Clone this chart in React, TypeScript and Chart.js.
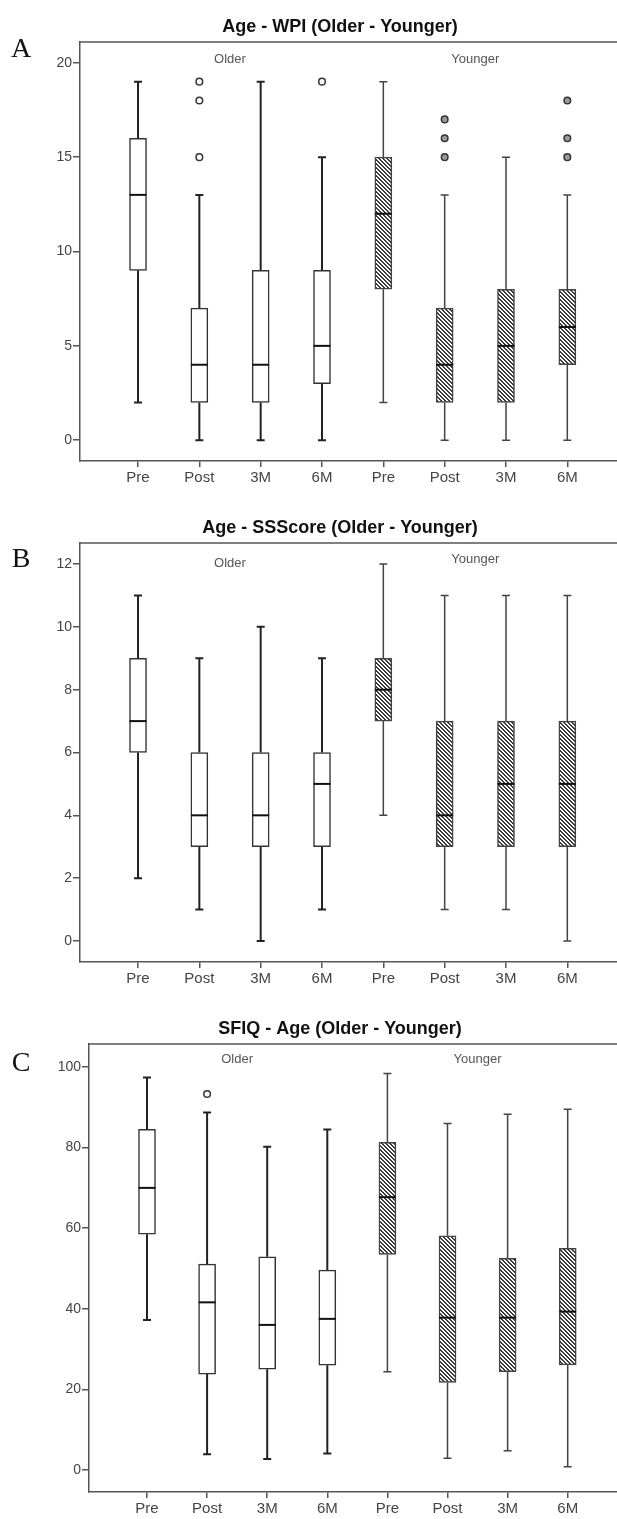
import React, { useEffect, useRef } from "react";
import { Chart, registerables } from "chart.js";

Chart.register(...registerables);

// ---------- data ----------
const categories = ["Pre", "Post", "3M", "6M", "Pre", "Post", "3M", "6M"];
const groupLabels = ["Older", "Younger"];

// Panel A: Age - WPI
const wpiMin = [2, 0, 0, 0, 2, 0, 0, 0];
const wpiQ1 = [9, 2, 2, 3, 8, 2, 2, 4];
const wpiMed = [13, 4, 4, 5, 12, 4, 5, 6];
const wpiQ3 = [16, 7, 9, 9, 15, 7, 8, 8];
const wpiMax = [19, 13, 19, 15, 19, 13, 15, 13];
const wpiOutX = [1, 1, 1, 3, 5, 5, 5, 7, 7, 7];
const wpiOutY = [19, 18, 15, 19, 17, 16, 15, 18, 16, 15];
const wpiTicks = [0, 5, 10, 15, 20];

// Panel B: Age - SSScore
const ssMin = [2, 1, 0, 1, 4, 1, 1, 0];
const ssQ1 = [6, 3, 3, 3, 7, 3, 3, 3];
const ssMed = [7, 4, 4, 5, 8, 4, 5, 5];
const ssQ3 = [9, 6, 6, 6, 9, 7, 7, 7];
const ssMax = [11, 9, 10, 9, 12, 11, 11, 11];
const ssOutX: number[] = [];
const ssOutY: number[] = [];
const ssTicks = [0, 2, 4, 6, 8, 10, 12];

// Panel C: SFIQ - Age
const sfiqMin = [37.2, 3.9, 2.7, 4.1, 24.4, 2.9, 4.8, 0.8];
const sfiqQ1 = [58.5, 23.8, 25.0, 26.0, 53.5, 21.7, 24.4, 26.1];
const sfiqMed = [70.0, 41.6, 36.0, 37.5, 67.7, 37.8, 37.8, 39.3];
const sfiqQ3 = [84.5, 51.1, 52.9, 49.6, 81.3, 58.1, 52.5, 55.0];
const sfiqMax = [97.4, 88.7, 80.2, 84.5, 98.4, 86.0, 88.3, 89.5];
const sfiqOutX = [1];
const sfiqOutY = [93.3];
const sfiqTicks = [0, 20, 40, 60, 80, 100];

// ---------- panel layout ----------
type PanelCfg = {
  letter: string;
  title: string;
  min: number[]; q1: number[]; med: number[]; q3: number[]; max: number[];
  outX: number[]; outY: number[]; ticks: number[];
  yMin: number; yMax: number; xMin: number; xMax: number;
  height: number; top: number; xAxisH: number; yAxisW: number;
  titleY: number; letterY: number; olderY: number; youngerY: number;
};

const panels: PanelCfg[] = [
  {
    letter: "A", title: "Age - WPI (Older - Younger)",
    min: wpiMin, q1: wpiQ1, med: wpiMed, q3: wpiQ3, max: wpiMax,
    outX: wpiOutX, outY: wpiOutY, ticks: wpiTicks,
    yMin: -1.1, yMax: 21.1, xMin: -0.946, xMax: 7.81,
    height: 495, top: 42, xAxisH: 34, yAxisW: 80,
    titleY: 27, letterY: 50, olderY: 59, youngerY: 59,
  },
  {
    letter: "B", title: "Age - SSScore (Older - Younger)",
    min: ssMin, q1: ssQ1, med: ssMed, q3: ssQ3, max: ssMax,
    outX: ssOutX, outY: ssOutY, ticks: ssTicks,
    yMin: -0.67, yMax: 12.67, xMin: -0.946, xMax: 7.81,
    height: 495, top: 48, xAxisH: 28, yAxisW: 80,
    titleY: 33, letterY: 65, olderY: 68, youngerY: 64,
  },
  {
    letter: "C", title: "SFIQ - Age (Older - Younger)",
    min: sfiqMin, q1: sfiqQ1, med: sfiqMed, q3: sfiqQ3, max: sfiqMax,
    outX: sfiqOutX, outY: sfiqOutY, ticks: sfiqTicks,
    yMin: -5.46, yMax: 105.7, xMin: -0.965, xMax: 7.82,
    height: 529, top: 54, xAxisH: 27, yAxisW: 89,
    titleY: 39, letterY: 74, olderY: 69, youngerY: 69,
  },
];

const SANS = "'Liberation Sans', Arial, sans-serif";
const SERIF = "'Liberation Serif', 'Times New Roman', serif";
const BOX_W = 17;

function makeHatch(ctx: CanvasRenderingContext2D) {
  const c = document.createElement("canvas");
  c.width = 4;
  c.height = 4;
  const g = c.getContext("2d")!;
  g.fillStyle = "#ffffff";
  g.fillRect(0, 0, 4, 4);
  g.fillStyle = "#3a3a3a";
  for (let i = 0; i < 4; i++) {
    g.fillRect(i, i, 1, 1);
    g.fillRect((i + 1) % 4, i, 1, 1);
  }
  return ctx.createPattern(c, "repeat");
}

function Panel({ cfg }: { cfg: PanelCfg }) {
  const ref = useRef<HTMLCanvasElement>(null);

  useEffect(() => {
    const canvas = ref.current!;
    const ctx2d = canvas.getContext("2d")!;
    const hatch = makeHatch(ctx2d);

    const decor = {
      id: "boxDecor",
      beforeDatasetsDraw(chart: any) {
        const { ctx, chartArea } = chart;
        const x = chart.scales.x;
        const y = chart.scales.y;
        ctx.save();
        ctx.strokeStyle = "#555";
        ctx.lineWidth = 1.5;
        ctx.beginPath();
        ctx.moveTo(chartArea.left, chartArea.top);
        ctx.lineTo(chartArea.right, chartArea.top);
        ctx.stroke();
        categories.forEach((_, i) => {
          const px = x.getPixelForValue(i);
          ctx.lineWidth = i < 4 ? 2 : 1.5;
          ctx.strokeStyle = i < 4 ? "#222" : "#444";
          ctx.beginPath();
          ctx.moveTo(px, y.getPixelForValue(cfg.min[i]));
          ctx.lineTo(px, y.getPixelForValue(cfg.q1[i]));
          ctx.moveTo(px, y.getPixelForValue(cfg.q3[i]));
          ctx.lineTo(px, y.getPixelForValue(cfg.max[i]));
          const pMin = y.getPixelForValue(cfg.min[i]);
          const pMax = y.getPixelForValue(cfg.max[i]);
          ctx.moveTo(px - 4, pMin);
          ctx.lineTo(px + 4, pMin);
          ctx.moveTo(px - 4, pMax);
          ctx.lineTo(px + 4, pMax);
          ctx.stroke();
        });
        ctx.restore();
      },
      afterDatasetsDraw(chart: any) {
        const { ctx } = chart;
        const x = chart.scales.x;
        const y = chart.scales.y;
        ctx.save();
        ctx.strokeStyle = "#111";
        ctx.lineWidth = 2;
        categories.forEach((_, i) => {
          const px = x.getPixelForValue(i);
          const py = y.getPixelForValue(cfg.med[i]);
          ctx.beginPath();
          ctx.moveTo(px - BOX_W / 2, py);
          ctx.lineTo(px + BOX_W / 2, py);
          ctx.stroke();
        });
        ctx.restore();
      },
      afterDraw(chart: any) {
        const { ctx } = chart;
        const x = chart.scales.x;
        ctx.save();
        ctx.textAlign = "center";
        ctx.textBaseline = "middle";
        ctx.fillStyle = "#111";
        ctx.font = `bold 18px ${SANS}`;
        ctx.fillText(cfg.title, 340, cfg.titleY);
        ctx.font = `28px ${SERIF}`;
        ctx.fillText(cfg.letter, 21, cfg.letterY);
        ctx.fillStyle = "#555";
        ctx.font = `13px ${SANS}`;
        ctx.fillText(groupLabels[0], x.getPixelForValue(1.5), cfg.olderY);
        ctx.fillText(groupLabels[1], x.getPixelForValue(5.5), cfg.youngerY);
        ctx.restore();
      },
    };

    const chart = new Chart(canvas, {
      type: "bar",
      data: {
        datasets: [
          {
            type: "bar",
            data: categories.map((_, i) => ({ x: i, y: [cfg.q1[i], cfg.q3[i]] })) as any,
            backgroundColor: categories.map((_, i) => (i < 4 ? "#ffffff" : hatch)) as any,
            borderColor: categories.map((_, i) => (i < 4 ? "#333" : "#444")),
            borderWidth: 1.5,
            borderSkipped: false,
            barThickness: BOX_W,
            grouped: false,
          } as any,
          {
            type: "scatter",
            data: cfg.outX.map((xv, i) => ({ x: xv, y: cfg.outY[i] })),
            pointRadius: 3.3,
            pointBackgroundColor: cfg.outX.map((xv) => (xv < 4 ? "#ffffff" : "#9a9a9a")),
            pointBorderColor: "#333",
            pointBorderWidth: 1.5,
          } as any,
        ],
      },
      options: {
        responsive: false,
        animation: false,
        devicePixelRatio: 1,
        events: [],
        layout: { autoPadding: false, padding: { top: cfg.top, left: 0, right: 0, bottom: 0 } },
        plugins: {
          legend: { display: false },
          tooltip: { enabled: false },
          title: { display: false },
        },
        scales: {
          x: {
            type: "linear",
            min: cfg.xMin,
            max: cfg.xMax,
            offset: false,
            afterBuildTicks: (s: any) => {
              s.ticks = categories.map((_, i) => ({ value: i }));
            },
            afterFit: (s: any) => {
              s.height = cfg.xAxisH;
            },
            ticks: {
              callback: (_v: any, idx: number) => categories[idx],
              color: "#444",
              font: { family: SANS, size: 15 },
              padding: 2,
              autoSkip: false,
              maxRotation: 0,
            },
            grid: {
              offset: false,
              drawOnChartArea: false,
              drawTicks: true,
              tickLength: 6,
              color: "#555",
              lineWidth: 1.5,
            },
            border: { display: true, color: "#555", width: 1.5 },
          } as any,
          y: {
            type: "linear",
            min: cfg.yMin,
            max: cfg.yMax,
            afterBuildTicks: (s: any) => {
              s.ticks = cfg.ticks.map((v) => ({ value: v }));
            },
            afterFit: (s: any) => {
              s.width = cfg.yAxisW;
            },
            ticks: {
              color: "#444",
              font: { family: SANS, size: 14 },
              padding: 1,
            },
            grid: {
              drawOnChartArea: false,
              drawTicks: true,
              tickLength: 7,
              color: "#555",
              lineWidth: 1.5,
            },
            border: { display: true, color: "#555", width: 1.5 },
          } as any,
        },
      },
      plugins: [decor],
    });

    return () => chart.destroy();
  }, [cfg]);

  return (
    <canvas
      ref={ref}
      width={617}
      height={cfg.height}
      style={{ display: "block", width: 617, height: cfg.height }}
    />
  );
}

export default function App() {
  return (
    <div style={{ position: "absolute", left: 0, top: 0, width: 617, background: "#fff" }}>
      {panels.map((p) => (
        <Panel key={p.letter} cfg={p} />
      ))}
    </div>
  );
}
